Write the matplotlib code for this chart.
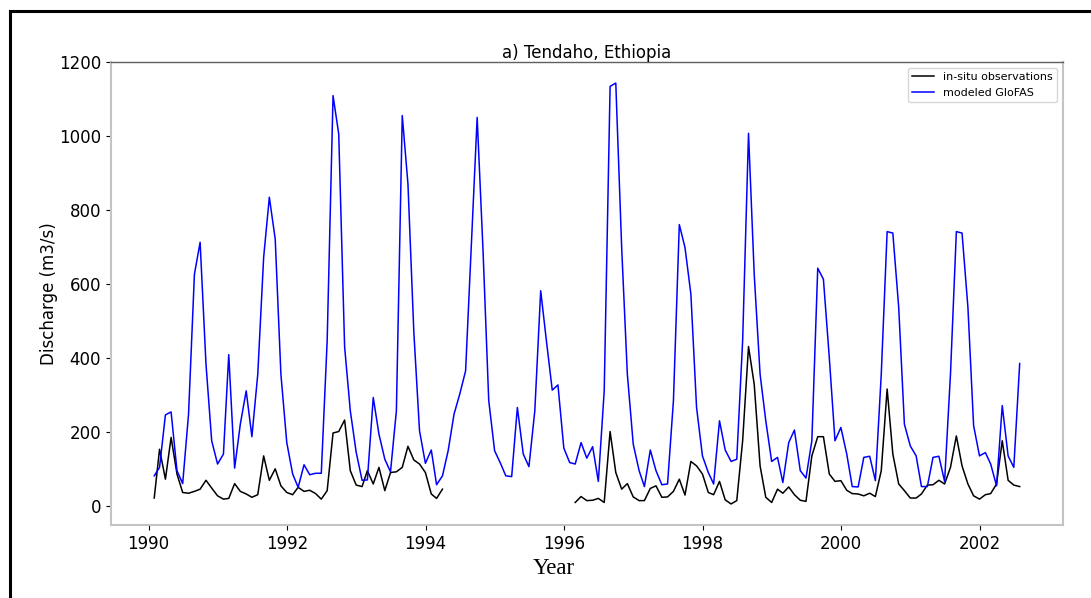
import matplotlib
matplotlib.use("Agg")
import matplotlib.pyplot as plt
import matplotlib.dates as mdates
from matplotlib.lines import Line2D
import numpy as np
import pandas as pd

# monthly series, Jan 1990 .. Jul 2002
months = pd.date_range("1990-01-31", periods=151, freq="ME")

glofas = [
    81, 104, 246, 254, 95, 60, 248, 627, 713, 383, 176, 113,
    140, 409, 102, 221, 311, 187, 356, 672, 835, 722, 356, 171,
    86, 50, 111, 84, 88, 88, 447, 1110, 1006, 430, 257, 145,
    69, 70, 293, 194, 126, 92, 257, 1056, 871, 470, 203, 115,
    151, 57, 81, 149, 248, 302, 365, 717, 1051, 690, 285, 149,
    115, 81, 79, 266, 140, 106, 257, 582, 447, 313, 327, 156,
    117, 113, 171, 129, 160, 66, 311, 1135, 1144, 699, 356, 167,
    95, 52, 151, 95, 57, 59, 284, 761, 699, 573, 266, 135,
    90, 59, 230, 151, 120, 126, 447, 1008, 627, 356, 230, 120,
    131, 63, 171, 205, 95, 75, 176, 643, 613, 401, 176, 212,
    140, 52, 51, 131, 134, 68, 356, 742, 738, 537, 221, 162,
    135, 52, 52, 131, 134, 66, 356, 742, 738, 537, 217, 135,
    144, 113, 54, 271, 135, 104, 385,
]

nan = np.nan
insitu = [
    21, 153, 72, 185, 86, 36, 34, 39, 45, 69, 48, 27,
    18, 20, 60, 39, 32, 23, 30, 135, 69, 100, 54, 36,
    30, 50, 39, 42, 33, 18, 41, 197, 201, 232, 95, 56,
    52, 95, 59, 104, 41, 90, 92, 104, 161, 124, 113, 90,
    32, 20, 45, nan, nan, nan, nan, nan, nan, nan, nan, nan,
    nan, nan, nan, nan, nan, nan, nan, nan, nan, nan, nan, nan,
    nan, 9, 25, 14, 15, 20, 9, 201, 90, 45, 60, 24,
    14, 14, 47, 54, 23, 24, 39, 72, 29, 120, 108, 86,
    36, 30, 66, 16, 5, 14, 176, 431, 329, 108, 23, 9,
    45, 34, 51, 30, 15, 12, 135, 187, 187, 86, 66, 68,
    42, 33, 32, 27, 34, 25, 95, 316, 140, 59, 41, 21,
    21, 32, 56, 57, 69, 59, 104, 189, 108, 59, 27, 18,
    30, 33, 59, 176, 69, 56, 52,
]

fig = plt.figure(figsize=(10.91, 5.98), dpi=100)
ax = fig.add_axes([0.1017, 0.1221, 0.8726, 0.7742])

ax.plot(months, insitu, color="black", lw=1.1, label="in-situ observations")
ax.plot(months, glofas, color="blue", lw=1.1, label="modeled GloFAS")

ax.set_title("a) Tendaho, Ethiopia", fontsize=12, pad=1.5)
ax.set_ylabel("Discharge (m3/s)", fontsize=12, labelpad=1)
ax.set_xlabel("Year", fontsize=16.5, family="Liberation Serif", x=0.465)

ax.xaxis.set_major_locator(mdates.YearLocator(2))
ax.xaxis.set_major_formatter(mdates.DateFormatter("%Y"))
ax.tick_params(labelsize=12)
ax.set_yticks([0, 200, 400, 600, 800, 1000, 1200])

for side in ["left", "bottom", "right"]:
    ax.spines[side].set_color("#c4c4c4")
    ax.spines[side].set_linewidth(1.5)
ax.spines["top"].set_color("#606060")
ax.spines["top"].set_linewidth(1.0)

ax.legend(loc="upper right", fontsize=8)

# screenshot frame (left and top edges only)
fig.add_artist(Line2D([9.5 / 1091, 9.5 / 1091], [-0.1, 1 - 10.5 / 598],
                      transform=fig.transFigure, color="black", lw=2.2))
fig.add_artist(Line2D([9.5 / 1091, 1.1], [1 - 10.5 / 598, 1 - 10.5 / 598],
                      transform=fig.transFigure, color="black", lw=2.2))

fig.savefig("out.png", dpi=100)
